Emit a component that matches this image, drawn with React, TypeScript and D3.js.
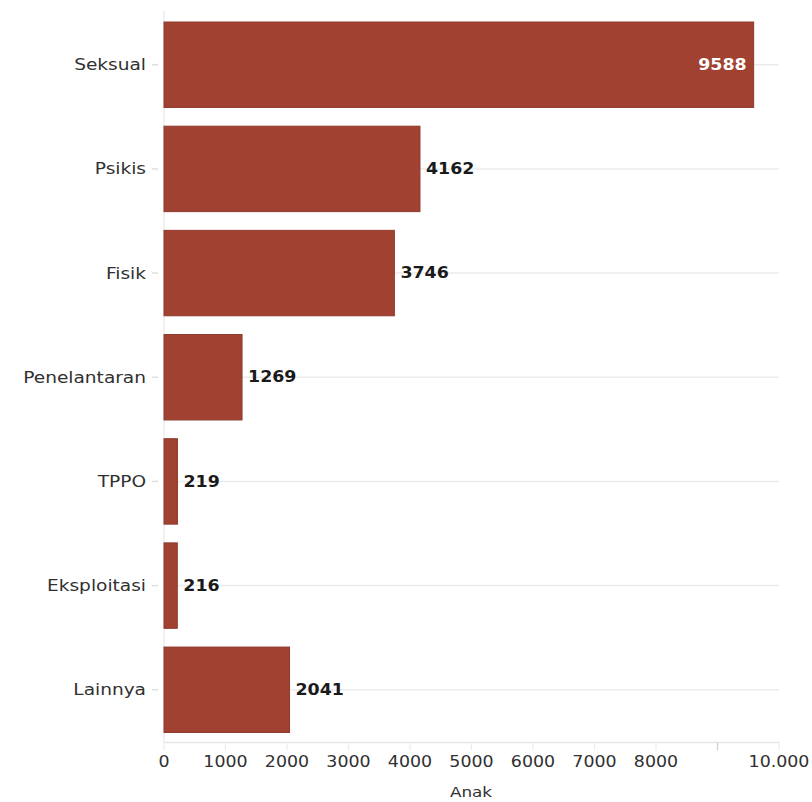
import React from "react";
import * as d3 from "d3";

const categories = ["Seksual", "Psikis", "Fisik", "Penelantaran", "TPPO", "Eksploitasi", "Lainnya"];
const values = [9588, 4162, 3746, 1269, 219, 216, 2041];
const tickValues = [0, 1000, 2000, 3000, 4000, 5000, 6000, 7000, 8000, 9000, 10000];
const tickLabels = ["0", "1000", "2000", "3000", "4000", "5000", "6000", "7000", "8000", "", "10.000"];
const axisTitle = "Anak";

const W = 812;
const H = 802;
const FONT = "DejaVu Sans, Verdana, sans-serif";
const SX = 1.16;

export default function App() {
  const x = d3.scaleLinear().domain([0, 10000]).range([164, 779]);
  const y = d3.scaleBand<string>().domain(categories).range([11.6, 742.9]).paddingInner(0.18).paddingOuter(0.1);
  const bw = y.bandwidth();
  const axisY = 742.5;

  const stretched = (tx: number, ty: number) => `translate(${tx},${ty}) scale(${SX},1)`;

  return (
    <svg width={W} height={H} style={{ position: "absolute", left: 0, top: 0, background: "#fff" }}>
      {categories.map((c) => (
        <line key={"g" + c} x1={x(0)} x2={x(10000)} y1={y(c)! + bw / 2} y2={y(c)! + bw / 2} stroke="#ebebeb" strokeWidth={1.5} />
      ))}
      <line x1={x(0)} x2={x(0)} y1={11} y2={axisY} stroke="#ececec" strokeWidth={1.5} />
      {categories.map((c) => (
        <g key={"yl" + c}>
          <line x1={152} x2={158} y1={y(c)! + bw / 2} y2={y(c)! + bw / 2} stroke="#e0e0e0" strokeWidth={1.5} />
          <text
            transform={stretched(146, y(c)! + bw / 2)}
            textAnchor="end"
            dominantBaseline="central"
            fontFamily={FONT}
            fontSize={16}
            fill="#303030"
          >
            {c}
          </text>
        </g>
      ))}
      {categories.map((c, i) => (
        <rect
          key={"b" + c}
          x={x(0)}
          y={y(c)!}
          width={x(values[i]) - x(0)}
          height={bw}
          fill="#a04132"
          stroke="#8f3a2c"
          strokeWidth={1}
        />
      ))}
      {categories.map((c, i) => {
        const inside = values[i] > 8000;
        const tx = inside ? x(values[i]) - 7 : x(values[i]) + 6;
        return (
          <text
            key={"v" + c}
            transform={stretched(tx, y(c)! + bw / 2)}
            textAnchor={inside ? "end" : "start"}
            dominantBaseline="central"
            fontFamily={FONT}
            fontSize={15}
            fontWeight="bold"
            fill={inside ? "#ffffff" : "#1a1a1a"}
          >
            {values[i]}
          </text>
        );
      })}
      <line x1={x(0)} x2={x(10000)} y1={axisY} y2={axisY} stroke="#e6e6e6" strokeWidth={1.5} />
      {tickValues.map((t, i) => (
        <g key={"t" + t}>
          <line x1={x(t)} x2={x(t)} y1={axisY} y2={axisY + 8} stroke={tickLabels[i] ? "#ececec" : "#cfcfcf"} strokeWidth={1.2} />
          {tickLabels[i] && (
            <text
              transform={stretched(x(t), 762)}
              textAnchor="middle"
              dominantBaseline="central"
              fontFamily={FONT}
              fontSize={15}
              fill="#303030"
            >
              {tickLabels[i]}
            </text>
          )}
        </g>
      ))}
      <text
        transform={stretched(471, 792)}
        textAnchor="middle"
        dominantBaseline="central"
        fontFamily={FONT}
        fontSize={14.5}
        fill="#303030"
      >
        {axisTitle}
      </text>
    </svg>
  );
}
